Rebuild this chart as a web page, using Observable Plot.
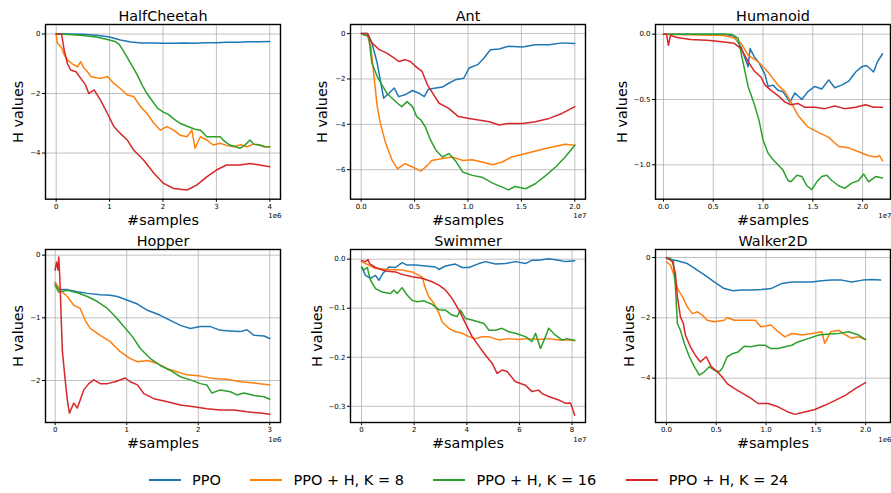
<!DOCTYPE html>
<html><head><meta charset="utf-8">
<script src="https://cdn.jsdelivr.net/npm/d3@7"></script>
<script src="https://cdn.jsdelivr.net/npm/@observablehq/plot@0.6"></script>
<style>
body{margin:0;background:#fff;font-family:"DejaVu Sans",sans-serif;}
#fig{position:relative;width:891px;height:493px;overflow:hidden;}
.panel{position:absolute;}
.panel svg{max-width:none !important;}
#legend{position:absolute;left:149px;top:470px;height:20px;display:flex;align-items:center;font-size:14.5px;color:#000;white-space:nowrap;}
#legend .sw{width:32px;height:2px;margin-right:11px;}
#legend .lb{margin-right:29.5px;}
</style></head><body><div id="fig"><div id="legend"></div></div>
<script>
const seriesNames = ["PPO", "PPO + H, K = 8", "PPO + H, K = 16", "PPO + H, K = 24"];
const seriesColors = ["#1f77b4", "#ff7f0e", "#2ca02c", "#d62728"];

// HalfCheetah (x in 1e6)
const hcPPO = [[0,0],[0.25,0],[0.5,-0.01],[0.75,-0.04],[1.0,-0.1],[1.2,-0.2],[1.4,-0.27],[1.6,-0.3],[1.8,-0.3],[2.0,-0.31],[2.2,-0.31],[2.4,-0.3],[2.6,-0.31],[2.8,-0.29],[3.0,-0.29],[3.2,-0.28],[3.4,-0.28],[3.6,-0.26],[3.8,-0.26],[4.0,-0.25]];
const hcK8 = [[0,0],[0.02,-0.3],[0.1,-0.45],[0.15,-0.7],[0.21,-0.87],[0.3,-1.0],[0.4,-1.1],[0.46,-0.93],[0.52,-1.15],[0.58,-1.25],[0.65,-1.43],[0.75,-1.47],[0.83,-1.49],[0.96,-1.43],[1.08,-1.66],[1.2,-1.83],[1.33,-2.05],[1.45,-2.1],[1.58,-2.44],[1.7,-2.67],[1.83,-3.0],[1.95,-3.23],[2.07,-3.11],[2.2,-3.23],[2.32,-3.4],[2.45,-3.45],[2.54,-3.23],[2.6,-3.84],[2.7,-3.45],[2.82,-3.56],[2.94,-3.73],[3.07,-3.67],[3.2,-3.75],[3.32,-3.79],[3.45,-3.72],[3.57,-3.79],[3.7,-3.7],[3.81,-3.73],[3.9,-3.8],[4.0,-3.79]];
const hcK16 = [[0,0],[0.25,-0.02],[0.5,-0.05],[0.75,-0.1],[1.0,-0.2],[1.1,-0.25],[1.18,-0.35],[1.25,-0.54],[1.32,-0.75],[1.4,-1.0],[1.48,-1.25],[1.55,-1.49],[1.62,-1.75],[1.7,-2.0],[1.8,-2.25],[1.9,-2.5],[2.0,-2.62],[2.1,-2.7],[2.2,-2.85],[2.32,-3.0],[2.45,-3.1],[2.6,-3.2],[2.7,-3.23],[2.82,-3.45],[3.0,-3.45],[3.07,-3.45],[3.15,-3.6],[3.25,-3.73],[3.35,-3.78],[3.44,-3.84],[3.52,-3.75],[3.58,-3.65],[3.63,-3.56],[3.7,-3.7],[3.81,-3.73],[3.9,-3.78],[4.0,-3.79]];
const hcK24 = [[0,0],[0.1,0],[0.15,-0.54],[0.21,-0.99],[0.27,-1.21],[0.37,-1.27],[0.46,-1.49],[0.55,-1.71],[0.61,-2.0],[0.71,-1.88],[0.83,-2.22],[0.96,-2.67],[1.08,-3.11],[1.2,-3.34],[1.33,-3.56],[1.45,-3.9],[1.64,-4.24],[1.83,-4.68],[2.01,-5.02],[2.2,-5.19],[2.45,-5.24],[2.63,-5.08],[2.82,-4.8],[3.0,-4.57],[3.19,-4.4],[3.44,-4.4],[3.63,-4.35],[3.81,-4.4],[4.0,-4.46]];

// Ant (x in 1e7)
const antPPO = [[0,0],[0.06,0],[0.1,-0.41],[0.15,-1.3],[0.21,-2.85],[0.26,-2.63],[0.31,-2.4],[0.35,-2.78],[0.41,-2.7],[0.48,-2.51],[0.54,-2.63],[0.59,-2.78],[0.63,-2.45],[0.7,-2.4],[0.76,-2.36],[0.82,-2.19],[0.88,-2.04],[0.96,-1.97],[1.01,-1.52],[1.09,-1.37],[1.15,-1.08],[1.21,-0.71],[1.29,-0.68],[1.38,-0.56],[1.51,-0.59],[1.63,-0.49],[1.76,-0.49],[1.88,-0.41],[2.0,-0.44]];
const antK8 = [[0,0],[0.06,-0.12],[0.09,-0.56],[0.12,-1.89],[0.15,-3.22],[0.18,-3.96],[0.23,-4.85],[0.29,-5.59],[0.34,-5.96],[0.41,-5.73],[0.48,-5.88],[0.56,-6.06],[0.62,-5.81],[0.66,-5.59],[0.76,-5.51],[0.85,-5.44],[0.95,-5.59],[1.04,-5.56],[1.13,-5.66],[1.23,-5.78],[1.32,-5.66],[1.41,-5.44],[1.54,-5.29],[1.66,-5.14],[1.79,-5.0],[1.91,-4.88],[2.0,-4.92]];
const antK16 = [[0,0],[0.07,-0.12],[0.1,-1.3],[0.15,-1.89],[0.2,-2.3],[0.24,-2.63],[0.29,-2.85],[0.34,-3.07],[0.38,-3.22],[0.43,-3.0],[0.48,-3.22],[0.52,-3.66],[0.56,-3.81],[0.6,-4.11],[0.65,-4.7],[0.7,-5.14],[0.76,-5.44],[0.82,-5.29],[0.88,-5.59],[0.95,-6.1],[1.04,-6.25],[1.13,-6.33],[1.23,-6.59],[1.32,-6.77],[1.38,-6.89],[1.44,-6.74],[1.54,-6.84],[1.63,-6.62],[1.73,-6.25],[1.82,-5.88],[1.91,-5.44],[2.0,-4.92]];
const antK24 = [[0,0],[0.06,0],[0.1,-0.41],[0.17,-0.71],[0.24,-0.86],[0.31,-1.08],[0.35,-1.23],[0.41,-1.15],[0.46,-1.23],[0.52,-1.49],[0.57,-1.67],[0.62,-2.26],[0.66,-2.56],[0.73,-3.07],[0.82,-3.3],[0.91,-3.66],[1.01,-3.74],[1.1,-3.81],[1.2,-3.89],[1.29,-4.03],[1.38,-3.96],[1.51,-3.96],[1.63,-3.89],[1.76,-3.74],[1.88,-3.52],[2.0,-3.22]];

// Humanoid (x in 1e7)
const humPPO = [[0,0],[0.61,0],[0.71,-0.015],[0.78,-0.1],[0.85,-0.25],[0.87,-0.11],[0.91,-0.17],[0.96,-0.22],[1.02,-0.31],[1.05,-0.4],[1.1,-0.39],[1.15,-0.43],[1.2,-0.44],[1.27,-0.52],[1.32,-0.45],[1.39,-0.5],[1.45,-0.44],[1.52,-0.4],[1.59,-0.42],[1.66,-0.35],[1.72,-0.41],[1.79,-0.39],[1.86,-0.36],[1.93,-0.29],[1.99,-0.25],[2.04,-0.24],[2.11,-0.29],[2.15,-0.21],[2.2,-0.15]];
const humK8 = [[0,0],[0.61,-0.01],[0.71,-0.03],[0.78,-0.07],[0.85,-0.16],[0.95,-0.21],[1.05,-0.29],[1.15,-0.39],[1.22,-0.44],[1.28,-0.52],[1.35,-0.62],[1.45,-0.71],[1.55,-0.75],[1.66,-0.79],[1.76,-0.86],[1.86,-0.87],[1.96,-0.9],[2.06,-0.93],[2.13,-0.94],[2.17,-0.93],[2.2,-0.97]];
const humK16 = [[0,0],[0.68,0],[0.75,-0.03],[0.8,-0.22],[0.85,-0.4],[0.91,-0.53],[0.96,-0.66],[1.0,-0.81],[1.05,-0.91],[1.1,-0.96],[1.15,-1.0],[1.2,-1.04],[1.25,-1.12],[1.28,-1.13],[1.34,-1.08],[1.39,-1.09],[1.44,-1.16],[1.49,-1.19],[1.54,-1.13],[1.59,-1.09],[1.64,-1.08],[1.69,-1.12],[1.76,-1.16],[1.82,-1.18],[1.89,-1.14],[1.96,-1.12],[2.01,-1.07],[2.06,-1.13],[2.13,-1.09],[2.2,-1.1]];
const humK24 = [[0,0],[0.03,0],[0.05,-0.085],[0.07,-0.01],[0.14,-0.025],[0.27,-0.04],[0.44,-0.046],[0.61,-0.06],[0.71,-0.07],[0.78,-0.11],[0.85,-0.21],[0.91,-0.28],[0.98,-0.33],[1.02,-0.39],[1.08,-0.43],[1.15,-0.47],[1.22,-0.52],[1.28,-0.54],[1.35,-0.53],[1.42,-0.56],[1.52,-0.56],[1.62,-0.57],[1.72,-0.55],[1.82,-0.57],[1.93,-0.56],[2.03,-0.54],[2.11,-0.56],[2.2,-0.56]];

// Hopper (x in 1e6)
const hopPPO = [[0,-0.45],[0.05,-0.55],[0.17,-0.55],[0.31,-0.585],[0.45,-0.61],[0.63,-0.63],[0.77,-0.64],[0.87,-0.66],[1.01,-0.72],[1.15,-0.78],[1.29,-0.88],[1.47,-0.96],[1.61,-1.04],[1.75,-1.12],[1.89,-1.17],[2.03,-1.14],[2.17,-1.14],[2.31,-1.2],[2.45,-1.21],[2.59,-1.22],[2.68,-1.19],[2.78,-1.28],[2.92,-1.29],[3.0,-1.33]];
const hopK8 = [[0,-0.43],[0.07,-0.56],[0.17,-0.66],[0.26,-0.8],[0.35,-0.85],[0.42,-1.04],[0.49,-1.17],[0.63,-1.28],[0.77,-1.38],[0.91,-1.54],[1.05,-1.65],[1.15,-1.7],[1.29,-1.68],[1.43,-1.73],[1.57,-1.81],[1.7,-1.86],[1.84,-1.91],[2.03,-1.93],[2.22,-1.97],[2.4,-1.98],[2.59,-2.02],[2.78,-2.04],[3.0,-2.07]];
const hopK16 = [[0,-0.48],[0.05,-0.59],[0.17,-0.56],[0.31,-0.6],[0.45,-0.66],[0.59,-0.74],[0.73,-0.85],[0.84,-0.98],[0.96,-1.14],[1.08,-1.3],[1.19,-1.49],[1.33,-1.65],[1.47,-1.76],[1.61,-1.84],[1.75,-1.94],[1.89,-1.99],[2.03,-2.05],[2.12,-2.07],[2.19,-2.2],[2.31,-2.15],[2.45,-2.18],[2.54,-2.23],[2.64,-2.2],[2.78,-2.24],[2.92,-2.26],[3.0,-2.3]];
const hopK24 = [[0,-0.24],[0.02,-0.11],[0.04,-0.24],[0.05,-0.03],[0.065,-0.35],[0.1,-1.52],[0.14,-1.99],[0.17,-2.31],[0.2,-2.52],[0.26,-2.36],[0.31,-2.44],[0.35,-2.31],[0.4,-2.15],[0.47,-2.05],[0.54,-1.99],[0.63,-2.05],[0.73,-2.05],[0.84,-2.02],[0.98,-1.96],[1.05,-2.02],[1.15,-2.07],[1.24,-2.21],[1.38,-2.29],[1.57,-2.34],[1.75,-2.39],[1.94,-2.42],[2.12,-2.45],[2.31,-2.47],[2.5,-2.47],[2.68,-2.5],[2.87,-2.52],[3.0,-2.54]];

// Swimmer (x in 1e7)
const swPPO = [[0,-0.016],[0.15,-0.033],[0.34,-0.039],[0.53,-0.033],[0.66,-0.043],[0.81,-0.029],[1.04,-0.016],[1.29,-0.017],[1.54,-0.007],[1.73,-0.012],[2.05,-0.012],[2.43,-0.014],[2.81,-0.016],[2.94,-0.021],[3.19,-0.014],[3.57,-0.01],[3.82,-0.017],[4.08,-0.017],[4.46,-0.009],[4.71,-0.005],[5.09,-0.01],[5.47,-0.009],[5.85,-0.005],[6.23,-0.009],[6.48,-0.002],[6.73,-0.002],[7.11,0.001],[7.49,-0.002],[7.75,-0.005],[8.1,-0.003]];
const swK8 = [[0,-0.005],[0.53,-0.019],[1.04,-0.021],[1.54,-0.022],[1.92,-0.026],[2.18,-0.033],[2.3,-0.036],[2.43,-0.06],[2.56,-0.077],[2.75,-0.09],[2.94,-0.11],[3.06,-0.128],[3.32,-0.141],[3.57,-0.148],[3.82,-0.151],[4.08,-0.158],[4.33,-0.162],[4.58,-0.158],[4.84,-0.158],[5.22,-0.165],[5.59,-0.162],[5.97,-0.164],[6.35,-0.162],[6.73,-0.164],[7.11,-0.162],[7.49,-0.165],[7.81,-0.165],[8.1,-0.166]];
const swK16 = [[0,-0.016],[0.09,-0.022],[0.22,-0.017],[0.34,-0.043],[0.53,-0.06],[0.78,-0.067],[1.1,-0.07],[1.23,-0.063],[1.35,-0.07],[1.54,-0.058],[1.73,-0.073],[1.92,-0.084],[2.11,-0.087],[2.37,-0.085],[2.68,-0.092],[2.94,-0.103],[3.19,-0.104],[3.44,-0.114],[3.63,-0.117],[3.76,-0.104],[3.95,-0.121],[4.2,-0.124],[4.46,-0.128],[4.65,-0.131],[4.84,-0.145],[5.09,-0.145],[5.34,-0.141],[5.59,-0.148],[5.85,-0.151],[6.23,-0.158],[6.48,-0.168],[6.61,-0.151],[6.8,-0.182],[6.99,-0.158],[7.11,-0.141],[7.37,-0.155],[7.62,-0.165],[7.81,-0.162],[8.1,-0.166]];
const swK24 = [[0,-0.003],[0.15,-0.005],[0.25,-0.001],[0.3,-0.009],[0.53,-0.017],[0.91,-0.024],[1.29,-0.026],[1.54,-0.031],[1.92,-0.036],[2.3,-0.039],[2.68,-0.046],[2.94,-0.053],[3.19,-0.063],[3.44,-0.08],[3.7,-0.104],[3.95,-0.131],[4.2,-0.158],[4.52,-0.182],[4.71,-0.196],[4.96,-0.212],[5.15,-0.233],[5.34,-0.226],[5.53,-0.229],[5.85,-0.25],[6.23,-0.257],[6.48,-0.27],[6.73,-0.267],[6.86,-0.274],[7.11,-0.28],[7.49,-0.287],[7.75,-0.294],[7.94,-0.293],[8.1,-0.318]];

// Walker2D (x in 1e6)
const wkPPO = [[0,-0.03],[0.11,-0.11],[0.21,-0.2],[0.31,-0.42],[0.41,-0.64],[0.5,-0.86],[0.58,-1.03],[0.67,-1.1],[0.75,-1.08],[0.85,-1.08],[0.95,-1.06],[1.05,-1.03],[1.16,-0.86],[1.26,-0.81],[1.36,-0.81],[1.46,-0.81],[1.56,-0.77],[1.66,-0.75],[1.76,-0.75],[1.86,-0.81],[1.97,-0.75],[2.07,-0.73],[2.15,-0.75]];
const wkK8 = [[0,-0.14],[0.04,-0.25],[0.07,-0.53],[0.11,-1.03],[0.16,-1.3],[0.21,-1.64],[0.26,-1.86],[0.31,-1.8],[0.36,-1.91],[0.41,-2.08],[0.48,-2.13],[0.58,-2.08],[0.61,-1.99],[0.68,-2.08],[0.78,-2.08],[0.89,-2.08],[0.95,-2.3],[1.05,-2.24],[1.12,-2.46],[1.19,-2.63],[1.26,-2.52],[1.36,-2.57],[1.46,-2.52],[1.56,-2.46],[1.59,-2.85],[1.65,-2.46],[1.73,-2.41],[1.8,-2.57],[1.86,-2.68],[1.93,-2.63],[2.0,-2.72]];
const wkK16 = [[0,0],[0.04,-0.03],[0.07,-0.14],[0.09,-0.97],[0.11,-2.19],[0.14,-2.41],[0.18,-2.85],[0.23,-3.29],[0.28,-3.62],[0.33,-3.9],[0.38,-3.79],[0.43,-3.62],[0.48,-3.73],[0.53,-3.79],[0.56,-3.68],[0.61,-3.29],[0.67,-3.18],[0.72,-3.13],[0.78,-2.94],[0.85,-2.96],[0.92,-2.91],[0.99,-2.91],[1.05,-3.02],[1.12,-3.02],[1.19,-2.96],[1.26,-2.91],[1.32,-2.8],[1.43,-2.68],[1.53,-2.57],[1.63,-2.54],[1.73,-2.52],[1.83,-2.46],[1.93,-2.57],[2.0,-2.72]];
const wkK24 = [[0,0],[0.06,-0.14],[0.09,-0.53],[0.11,-1.3],[0.14,-1.97],[0.17,-2.19],[0.19,-2.57],[0.24,-2.96],[0.29,-3.24],[0.34,-3.46],[0.4,-3.29],[0.45,-3.62],[0.51,-3.79],[0.56,-3.96],[0.61,-4.18],[0.68,-4.34],[0.77,-4.51],[0.85,-4.67],[0.92,-4.84],[1.02,-4.84],[1.12,-4.95],[1.22,-5.12],[1.29,-5.2],[1.39,-5.12],[1.49,-5.04],[1.59,-4.9],[1.7,-4.73],[1.8,-4.56],[1.9,-4.34],[2.0,-4.15]];

const titles = ["HalfCheetah", "Ant", "Humanoid", "Hopper", "Swimmer", "Walker2D"];
const xTickValues = [[0,1,2,3,4],[0,0.5,1,1.5,2],[0,0.5,1,1.5,2],[0,1,2,3],[0,2,4,6,8],[0,0.5,1,1.5,2]];
const yTickValues = [[0,-2,-4],[0,-2,-4,-6],[0,-0.5,-1],[0,-1,-2],[0,-0.1,-0.2,-0.3],[0,-2,-4]];
const xExponents = ["1e6", "1e7", "1e7", "1e6", "1e7", "1e6"];
const panelSeries = [
  [hcPPO, hcK8, hcK16, hcK24],
  [antPPO, antK8, antK16, antK24],
  [humPPO, humK8, humK16, humK24],
  [hopPPO, hopK8, hopK16, hopK24],
  [swPPO, swK8, swK16, swK24],
  [wkPPO, wkK8, wkK16, wkK24]
];

// layout / scale settings
const layout = [
  {left:45, top:24.3, h:174.7, xd:[-0.2,4.2], yd:[-5.55,0.32], xf:"d", yf:"d", yl:-27},
  {left:350, top:24.3, h:174.7, xd:[-0.1,2.1], yd:[-7.3,0.4], xf:".1f", yf:"d", yl:-28},
  {left:655, top:24.3, h:174.7, xd:[-0.08,2.28], yd:[-1.263,0.074], xf:".1f", yf:".1f", yl:-33},
  {left:45, top:249.3, h:173, xd:[-0.135,3.15], yd:[-2.67,0.09], xf:"d", yf:"d", yl:-27},
  {left:350, top:249.3, h:173, xd:[-0.42,8.51], yd:[-0.333,0.0197], xf:"d", yf:".1f", yl:-33},
  {left:655, top:249.3, h:173, xd:[-0.11,2.25], yd:[-5.47,0.265], xf:".1f", yf:"d", yl:-26}
];

const fig = document.getElementById("fig");
const mL = 45, mR = 15, mT = 25, mB = 30, frameW = 235;

panelSeries.forEach((ser, p) => {
  const L = layout[p];
  const rows = [];
  ser.forEach((arr, s) => arr.forEach(([x, y]) => rows.push({x, y, series: seriesNames[s]})));
  const W = mL + frameW + mR, H = mT + L.h + mB;
  const chart = Plot.plot({
    width: W,
    height: H,
    marginLeft: mL, marginRight: mR, marginTop: mT, marginBottom: mB,
    style: {fontFamily: "DejaVu Sans", overflow: "visible", background: "transparent", color: "black", maxWidth: "none"},
    x: {domain: L.xd},
    y: {domain: L.yd},
    color: {domain: seriesNames, range: seriesColors},
    marks: [
      Plot.gridX(xTickValues[p], {stroke: "#b0b0b0", strokeOpacity: 1, strokeWidth: 0.8}),
      Plot.gridY(yTickValues[p], {stroke: "#b0b0b0", strokeOpacity: 1, strokeWidth: 0.8}),
      Plot.line(rows, {x: "x", y: "y", z: "series", stroke: "series", strokeWidth: 1.5}),
      Plot.axisX({ticks: xTickValues[p], tickFormat: d3.format(L.xf), tickSize: 3, tickPadding: 2, fontSize: 7, label: null}),
      Plot.axisY({ticks: yTickValues[p], tickFormat: d3.format(L.yf), tickSize: 3, tickPadding: 2, fontSize: 7, label: null}),
      Plot.text([titles[p]], {frameAnchor: "top", lineAnchor: "middle", textAnchor: "middle", dy: -8, fontSize: 14.4}),
      Plot.text(["#samples"], {frameAnchor: "bottom", lineAnchor: "middle", textAnchor: "middle", dy: 21, fontSize: 14.4}),
      Plot.text(["H values"], {frameAnchor: "left", lineAnchor: "middle", textAnchor: "middle", dx: L.yl, rotate: -90, fontSize: 14.4}),
      Plot.text([xExponents[p]], {frameAnchor: "bottom-right", lineAnchor: "middle", textAnchor: "end", dx: 1, dy: 17, fontSize: 7}),
      Plot.frame({stroke: "black", strokeWidth: 1.4})
    ]
  });
  const div = document.createElement("div");
  div.className = "panel";
  div.style.left = (L.left - mL) + "px";
  div.style.top = (L.top - mT) + "px";
  div.style.width = W + "px";
  div.style.height = H + "px";
  div.appendChild(chart);
  fig.appendChild(div);
});

const legend = document.getElementById("legend");
seriesNames.forEach((name, i) => {
  const sw = document.createElement("span");
  sw.className = "sw";
  sw.style.background = seriesColors[i];
  const lb = document.createElement("span");
  lb.className = "lb";
  lb.textContent = name;
  legend.appendChild(sw);
  legend.appendChild(lb);
});
</script>
</body></html>
